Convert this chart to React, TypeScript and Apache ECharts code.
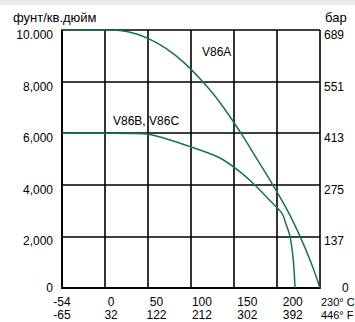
import React, { useEffect, useRef } from "react";
import * as echarts from "echarts";

const tempC = [-54, 0, 50, 100, 150, 200, 230];
const tempF = ["-65", "32", "122", "212", "302", "392", "446"];
const psiLabels = ["0", "2,000", "4,000", "6,000", "8,000", "10.000"];
const barLabels = ["0", "137", "275", "413", "551", "689"];

const v86a: [number, number][] = [
  [-54, 10000], [0, 10000], [20, 9922], [40, 9687], [60, 9295], [80, 8747],
  [100, 8030], [120, 7182], [143, 6000], [160, 5030], [178, 4000], [195, 2950],
  [208, 2000], [220, 1000], [230, 0],
];
const v86bc: [number, number][] = [
  [-54, 6000], [0, 6000], [20, 5990], [41, 5955], [87, 5480], [120, 5040],
  [142, 4500], [158, 4000], [176, 3350], [188, 2900], [192.6, 2480], [197, 2000],
  [200.6, 1080], [202.5, 0],
];

const FONT = "Liberation Sans";
const GREEN = "#15744b";

const tempLabel = (v: number) => {
  const i = tempC.indexOf(Math.round(v));
  if (i < 0) return "";
  if (i === tempC.length - 1) return `${tempC[i]}° C\n${tempF[i]}° F`;
  return `${tempC[i]}\n${tempF[i]}`;
};

export default function App() {
  const ref = useRef<HTMLDivElement>(null);
  useEffect(() => {
    const chart = echarts.init(ref.current!, null, { renderer: "svg" });
    const labelBase = {
      show: true,
      margin: 8,
      color: "#000",
      fontFamily: FONT,
      fontSize: 12,
      lineHeight: 12.5,
      showMinLabel: true,
      showMaxLabel: true,
      formatter: tempLabel,
    };
    chart.setOption({
      animation: false,
      backgroundColor: "#ffffff",
      textStyle: { fontFamily: FONT },
      grid: {
        left: 62, right: 35, top: 30, bottom: 34,
        containLabel: false, outerBoundsMode: "none",
      },
      xAxis: [
        {
          type: "value", min: 0, max: 6, interval: 1,
          axisLine: { show: true, lineStyle: { color: "#000", width: 2 } },
          axisTick: { show: false }, axisLabel: { show: false },
          splitLine: { show: true, lineStyle: { color: "#000", width: 1.6 } },
        },
        {
          type: "value", min: -54, max: 230, position: "bottom",
          axisLine: { show: false }, axisTick: { show: false },
          splitLine: { show: false },
          axisLabel: { ...labelBase, customValues: tempC.slice(0, -1) },
        },
        {
          type: "value", min: -54, max: 230, position: "bottom",
          axisLine: { show: false }, axisTick: { show: false },
          splitLine: { show: false },
          axisLabel: {
            ...labelBase, customValues: tempC.slice(-1), align: "left",
            fontSize: 11, padding: [0, 0, 0, 1],
          },
        },
      ],
      yAxis: [
        {
          type: "value", min: 0, max: 10000, interval: 2000,
          axisLine: { show: true, lineStyle: { color: "#000", width: 2 } },
          axisTick: { show: false },
          splitLine: { show: true, lineStyle: { color: "#000", width: 1.6 } },
          axisLabel: {
            margin: 9, color: "#000", fontFamily: FONT, fontSize: 12,
            showMinLabel: true, showMaxLabel: true,
            formatter: (v: number) => {
              const i = Math.round(v / 2000);
              return i === 0 ? `{z|${psiLabels[i]}}` : `{n|${psiLabels[i]}}`;
            },
            rich: {
              n: { padding: [10, 0, 0, 0], fontFamily: FONT, fontSize: 12, color: "#000" },
              z: { fontFamily: FONT, fontSize: 12, color: "#000" },
            },
          },
        },
        {
          type: "value", min: 0, max: 10000, interval: 2000, position: "right",
          axisLine: { show: false }, axisTick: { show: false }, splitLine: { show: false },
          axisLabel: {
            margin: 4, color: "#000", fontFamily: FONT, fontSize: 12, align: "left",
            showMinLabel: true, showMaxLabel: true,
            formatter: (v: number) => {
              const i = Math.round(v / 2000);
              return i === 0 ? `{z|${barLabels[i]}}` : `{n|${barLabels[i]}}`;
            },
            rich: {
              n: { padding: [10, 0, 0, 0], fontFamily: FONT, fontSize: 12, color: "#000" },
              z: { padding: [0, 0, 0, 18], fontFamily: FONT, fontSize: 12, color: "#000" },
            },
          },
        },
      ],
      graphic: [
        { type: "rect", left: 0, top: 0, shape: { width: 355, height: 5 }, style: { fill: "#ebebeb" }, silent: true },
        { type: "text", left: 13, top: 11, style: { text: "фунт/кв.дюйм", font: `13px "${FONT}"`, fill: "#000" } },
        { type: "text", left: 325, top: 11, style: { text: "бар", font: `13px "${FONT}"`, fill: "#000" } },
        { type: "text", left: 202, top: 46, style: { text: "V86A", font: `12px "${FONT}"`, fill: "#000" } },
        { type: "text", left: 113, top: 115, style: { text: "V86B, V86C", font: `12px "${FONT}"`, fill: "#000" } },
      ],
      series: [
        {
          name: "V86A", type: "line", xAxisIndex: 1, yAxisIndex: 0, data: v86a,
          showSymbol: false, symbol: "none", smooth: 0.4,
          lineStyle: { color: GREEN, width: 1.5 }, z: 5,
        },
        {
          name: "V86B, V86C", type: "line", xAxisIndex: 1, yAxisIndex: 0, data: v86bc,
          showSymbol: false, symbol: "none", smooth: 0.3,
          lineStyle: { color: GREEN, width: 1.5 }, z: 5,
        },
      ],
    });
    return () => chart.dispose();
  }, []);
  return (
    <div
      ref={ref}
      style={{ position: "fixed", left: 0, top: 0, width: 355, height: 322 }}
    />
  );
}
